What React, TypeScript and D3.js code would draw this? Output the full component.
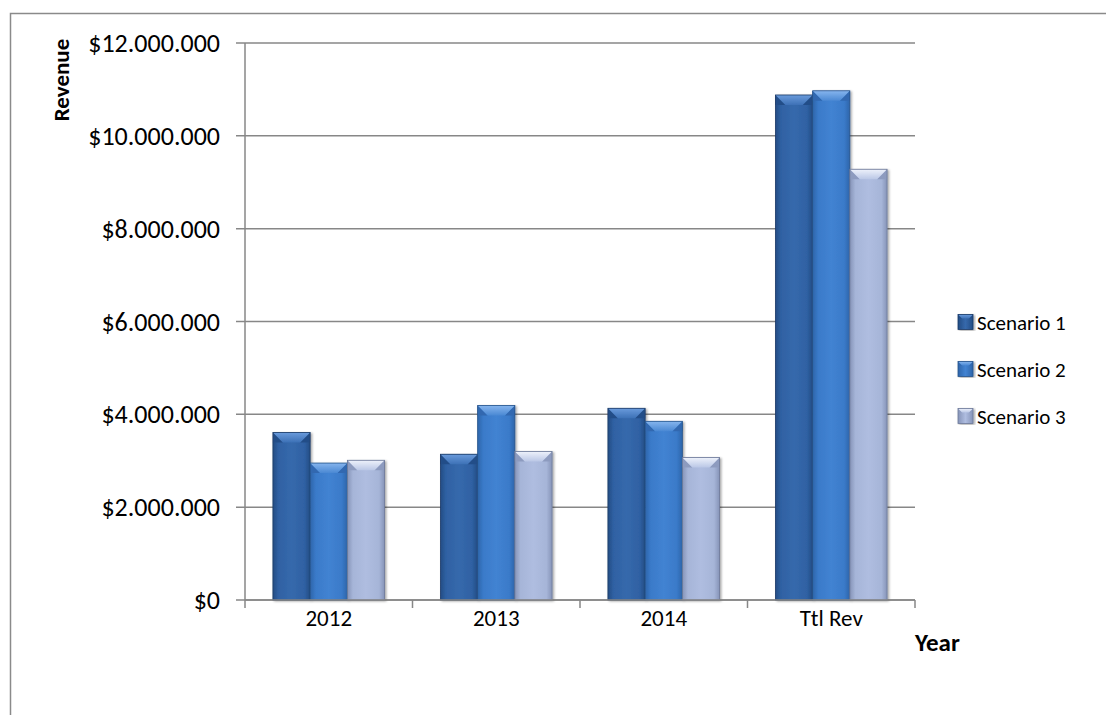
import React from "react";
import * as d3 from "d3";

const categories = ["2012", "2013", "2014", "Ttl Rev"];
const seriesNames = ["Scenario 1", "Scenario 2", "Scenario 3"];
const scenario1 = [3610000, 3140000, 4130000, 10880000];
const scenario2 = [2950000, 4190000, 3850000, 10970000];
const scenario3 = [3010000, 3200000, 3070000, 9280000];
const yTicks = [0, 2000000, 4000000, 6000000, 8000000, 10000000, 12000000];

const seriesValues = [scenario1, scenario2, scenario3];

const palette = [
  { base: "#2f61a3", dark: "#234c84", light: "#3669ac", bevelTop: "#6a9bdc", bevelBot: "#3d71b6", corner: "#244e88", stroke: "#1b3a66" },
  { base: "#3a7ac9", dark: "#2d65aa", light: "#4283d2", bevelTop: "#86b5ee", bevelBot: "#4a88d3", corner: "#3068b0", stroke: "#26538a" },
  { base: "#a6b5d8", dark: "#8694b8", light: "#afbde0", bevelTop: "#eef2fb", bevelBot: "#bac7e6", corner: "#8d9bbf", stroke: "#6b7898" },
];

const FONT = "Carlito, Calibri, Lato, sans-serif";

const W = 1106;
const H = 715;
const left = 245;
const right = 915;
const top = 43;
const bottom = 600;

const fmt = d3
  .formatLocale({ decimal: ",", thousands: ".", grouping: [3], currency: ["$", ""] })
  .format("$,.0f");

function Bar({ x, y, w, h, i, idp, bev }: { x: number; y: number; w: number; h: number; i: number; idp: string; bev: number }) {
  const c = palette[i];
  const b = Math.min(bev, w / 3);
  const bh = Math.min(bev, h / 2);
  return (
    <g filter="url(#shadow)">
      <rect x={x} y={y} width={w} height={h} fill={`url(#${idp}body${i})`} />
      <polygon points={`${x},${y} ${x + b},${y + bh} ${x},${y + bh}`} fill={c.corner} />
      <polygon points={`${x + w},${y} ${x + w - b},${y + bh} ${x + w},${y + bh}`} fill={c.corner} />
      <polygon
        points={`${x},${y} ${x + w},${y} ${x + w - b},${y + bh} ${x + b},${y + bh}`}
        fill={`url(#${idp}bevel${i})`}
      />
      <rect x={x} y={y} width={w} height={h} fill="none" stroke={c.stroke} strokeWidth={0.8} />
    </g>
  );
}

export default function App() {
  const x0 = d3.scaleBand<string>().domain(categories).range([left, right]).paddingInner(0).paddingOuter(0);
  const x1 = d3
    .scaleBand<string>()
    .domain(seriesNames)
    .range([0, x0.bandwidth()])
    .paddingInner(0)
    .paddingOuter(0.75);
  const y = d3.scaleLinear().domain([0, 12000000]).range([bottom, top]);

  const boundaries = categories.map((c) => x0(c) as number).concat([right]);

  return (
    <svg
      width={W}
      height={H}
      style={{ position: "absolute", left: 0, top: 0, background: "#fff" }}
      fontFamily={FONT}
    >
      <defs>
        <filter id="shadow" x="-20%" y="-5%" width="140%" height="110%">
          <feDropShadow dx="1.5" dy="1" stdDeviation="1.2" floodColor="#000" floodOpacity="0.35" />
        </filter>
        {palette.map((c, i) => (
          <React.Fragment key={i}>
            <linearGradient id={`bbody${i}`} x1="0" x2="1" y1="0" y2="0">
              <stop offset="0" stopColor={c.dark} />
              <stop offset="0.15" stopColor={c.base} />
              <stop offset="0.5" stopColor={c.light} />
              <stop offset="0.85" stopColor={c.base} />
              <stop offset="1" stopColor={c.dark} />
            </linearGradient>
            <linearGradient id={`bbevel${i}`} x1="0" x2="0" y1="0" y2="1">
              <stop offset="0" stopColor={c.bevelTop} />
              <stop offset="1" stopColor={c.bevelBot} />
            </linearGradient>
            <linearGradient id={`lbody${i}`} x1="0" x2="1" y1="0" y2="0">
              <stop offset="0" stopColor={c.dark} />
              <stop offset="0.5" stopColor={c.light} />
              <stop offset="1" stopColor={c.dark} />
            </linearGradient>
            <linearGradient id={`lbevel${i}`} x1="0" x2="0" y1="0" y2="1">
              <stop offset="0" stopColor={c.bevelTop} />
              <stop offset="1" stopColor={c.bevelBot} />
            </linearGradient>
          </React.Fragment>
        ))}
      </defs>

      {/* outer chart border */}
      <rect x={10.5} y={13.5} width={1200} height={800} fill="none" stroke="#8a8a8a" strokeWidth={1.5} />

      {/* gridlines */}
      {yTicks.map((t) => (
        <line key={t} x1={left - 9} x2={right} y1={y(t)} y2={y(t)} stroke="#878787" strokeWidth={1.5} />
      ))}
      {/* y axis line */}
      <line x1={left} x2={left} y1={top} y2={bottom} stroke="#878787" strokeWidth={1.5} />
      {/* x tick marks */}
      {boundaries.map((b, i) => (
        <line key={i} x1={b} x2={b} y1={bottom} y2={bottom + 8} stroke="#878787" strokeWidth={1.5} />
      ))}

      {/* bars */}
      {categories.map((cat, ci) =>
        seriesNames.map((s, si) => {
          const v = seriesValues[si][ci];
          const bx = (x0(cat) as number) + (x1(s) as number);
          const by = y(v);
          return <Bar key={cat + s} x={bx} y={by} w={x1.bandwidth()} h={bottom - by} i={si} idp="b" bev={10} />;
        })
      )}

      {/* x axis line over bars */}
      <line x1={left} x2={right} y1={bottom} y2={bottom} stroke="#878787" strokeWidth={1.5} />

      {/* y tick labels */}
      {yTicks.map((t) => (
        <text key={t} x={220} y={y(t)} dy="0.35em" textAnchor="end" fontSize={26} fill="#000">
          {fmt(t)}
        </text>
      ))}

      {/* x tick labels */}
      {categories.map((c) => (
        <text
          key={c}
          x={(x0(c) as number) + x0.bandwidth() / 2}
          y={626}
          textAnchor="middle"
          fontSize={23}
          fill="#000"
        >
          {c}
        </text>
      ))}

      {/* axis titles */}
      <text transform="translate(69,80) rotate(-90)" textAnchor="middle" fontSize={23} fontWeight="bold" fill="#000">
        Revenue
      </text>
      <text x={915} y={651} fontSize={25} fontWeight="bold" fill="#000">
        Year
      </text>

      {/* legend */}
      {seriesNames.map((s, i) => {
        const cy = 322 + i * 47;
        return (
          <g key={s}>
            <Bar x={958} y={cy - 7.5} w={15} h={15} i={i} idp="l" bev={4} />
            <text x={977} y={cy} dy="0.36em" fontSize={21} fill="#000">
              {s}
            </text>
          </g>
        );
      })}
    </svg>
  );
}
